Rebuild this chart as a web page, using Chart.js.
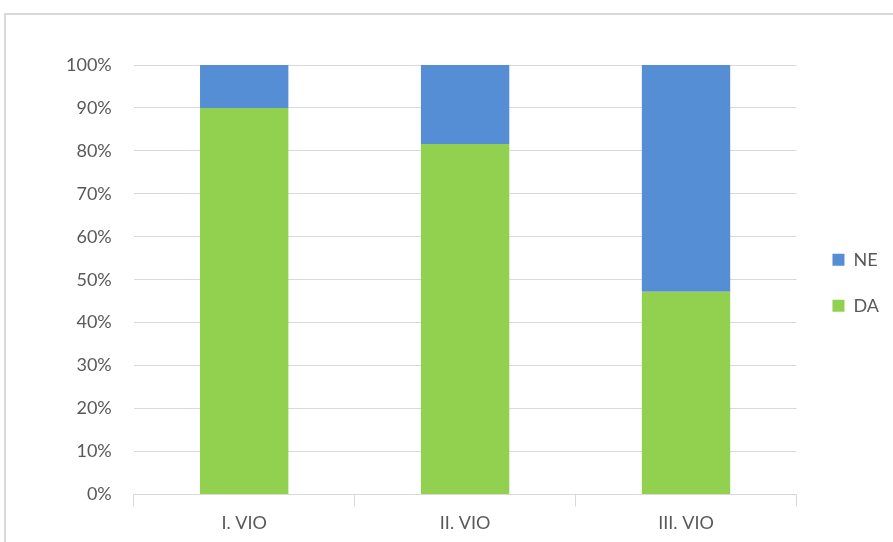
<!DOCTYPE html>
<html>
<head>
<meta charset="utf-8">
<script src="https://cdn.jsdelivr.net/npm/chart.js@4/dist/chart.umd.min.js"></script>
<style>
  html, body { margin: 0; padding: 0; background: #ffffff; overflow: hidden; }
  #frame {
    position: absolute; left: 4px; top: 13px; width: 920px; height: 560px;
    border-left: 2px solid #d9d9d9; border-top: 2px solid #d9d9d9;
    box-sizing: border-box;
  }
  #wrap { position: absolute; left: 0; top: 0; width: 893px; height: 542px; }
</style>
</head>
<body>
<div id="frame"></div>
<div id="wrap"><canvas id="c" width="893" height="542"></canvas></div>
<script>
// Share of answers per group (percent of respondents)
const categories = ['I. VIO', 'II. VIO', 'III. VIO'];
const daValues = [90, 81.6, 47.2];
const neValues = [10, 18.4, 52.8];
const yTicks = [0, 10, 20, 30, 40, 50, 60, 70, 80, 90, 100];

const textColor = '#595959';
const gridColor = '#d9d9d9';
const font = { family: 'Lato, "Open Sans", sans-serif', size: 18 };

// Small offset for the legend block after layout
const legendShift = { x: 8, y: 3 };
const legendNudge = {
  id: 'legendNudge',
  afterLayout(chart) {
    const l = chart.legend;
    if (!l) return;
    l.left += legendShift.x; l.right += legendShift.x;
    l.top += legendShift.y; l.bottom += legendShift.y;
  }
};

new Chart(document.getElementById('c'), {
  type: 'bar',
  data: {
    labels: categories,
    datasets: [
      { label: 'DA', data: daValues, backgroundColor: '#92d050', borderWidth: 0,
        categoryPercentage: 1, barPercentage: 0.4 },
      { label: 'NE', data: neValues, backgroundColor: '#558ed5', borderWidth: 0,
        categoryPercentage: 1, barPercentage: 0.4 }
    ]
  },
  plugins: [legendNudge],
  options: {
    responsive: false,
    animation: false,
    layout: { padding: { left: 44, top: 65, right: 12, bottom: 2 } },
    plugins: {
      legend: {
        position: 'right',
        fullSize: false,
        reverse: true,
        labels: {
          boxWidth: 12, boxHeight: 12, padding: 28,
          color: textColor, font: font
        }
      },
      tooltip: { enabled: false }
    },
    scales: {
      x: {
        stacked: true,
        grid: { offset: true, drawOnChartArea: false, color: gridColor, tickLength: 12 },
        border: { color: gridColor },
        ticks: { color: textColor, font: font, padding: 6 }
      },
      y: {
        stacked: true,
        min: 0, max: 100,
        afterBuildTicks: (axis) => { axis.ticks = yTicks.map(v => ({ value: v })); },
        grid: { color: gridColor, drawTicks: false },
        border: { display: false },
        ticks: { color: textColor, font: font, padding: 22, callback: v => v + '%' }
      }
    }
  }
});
</script>
</body>
</html>
